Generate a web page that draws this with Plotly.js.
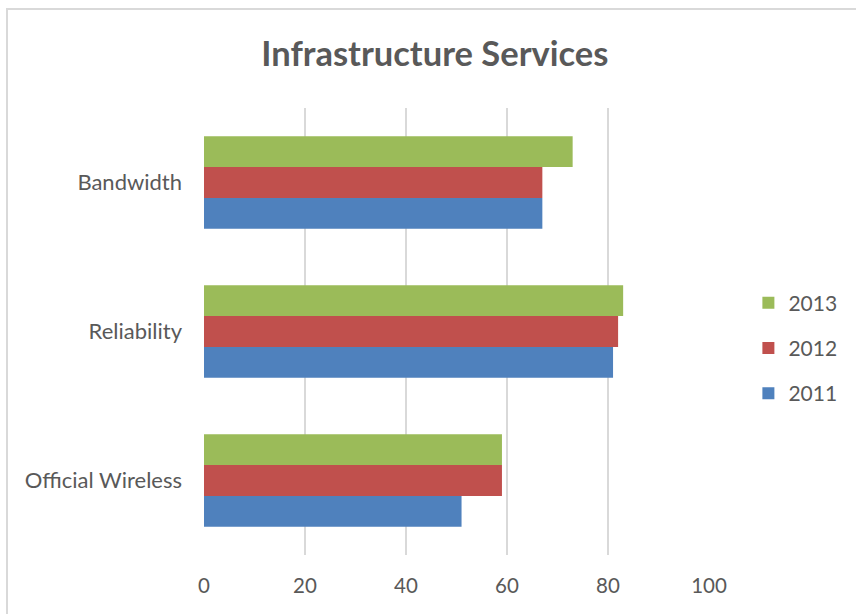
<!DOCTYPE html>
<html>
<head>
<meta charset="utf-8">
<script src="https://cdn.plot.ly/plotly-3.0.1.min.js"></script>
<style>
  html, body { margin: 0; padding: 0; background: #ffffff; overflow: hidden; }
  #frame { position: absolute; left: 6px; top: 8px; width: 880px; height: 640px; border: 2px solid #d9d9d9; box-sizing: border-box; }
  #chart { position: absolute; left: 0; top: 0; width: 856px; height: 614px; }
</style>
</head>
<body>
<div id="frame"></div>
<div id="chart"></div>
<script>
const categories = ["Official Wireless", "Reliability", "Bandwidth"];
const years = ["2011", "2012", "2013"];
const values2011 = [51, 81, 67];
const values2012 = [59, 82, 67];
const values2013 = [59, 83, 73];
const seriesValues = [values2011, values2012, values2013];
const colors = ["#4f81bd", "#c0504d", "#9bbb59"];
const xTicks = [0, 20, 40, 60, 80, 100];

const FONT = "Lato, 'Open Sans', sans-serif";
const TEXT = "#595959";

const traces = years.map((y, i) => ({
  type: "bar",
  orientation: "h",
  name: y,
  y: categories,
  x: seriesValues[i],
  legendgroup: y,
  legendrank: 100 - i,
  marker: { color: colors[i], line: { width: 0 } },
  hoverinfo: "x+name"
}));

const layout = {
  width: 856,
  height: 614,
  paper_bgcolor: "rgba(0,0,0,0)",
  plot_bgcolor: "rgba(0,0,0,0)",
  margin: { l: 204, r: 147, t: 108, b: 59, autoexpand: false },
  barmode: "group",
  bargap: 0.38,
  bargroupgap: 0,
  font: { family: FONT, color: TEXT, size: 19 },
  title: {
    text: "<b>Infrastructure Services</b>",
    font: { family: FONT, size: 34.5, color: TEXT },
    x: 0.508, xref: "container", xanchor: "center",
    y: 0.912, yref: "container", yanchor: "middle"
  },
  xaxis: {
    range: [0, 100],
    tickvals: xTicks,
    ticktext: xTicks.map(String),
    showgrid: true,
    gridcolor: "#d9d9d9",
    gridwidth: 1.8,
    zeroline: false,
    showline: false,
    ticks: "",
    ticklabelstandoff: 16,
    tickfont: { family: FONT, size: 20.5, color: TEXT },
    fixedrange: true
  },
  yaxis: {
    type: "category",
    categoryorder: "array",
    categoryarray: categories,
    showgrid: false,
    zeroline: false,
    showline: false,
    ticks: "",
    ticklabelstandoff: 21,
    tickfont: { family: FONT, size: 22, color: TEXT },
    fixedrange: true
  },
  legend: {
    traceorder: "grouped",
    tracegroupgap: 15,
    x: 1.078, xanchor: "left",
    y: 0.463, yanchor: "middle",
    font: { family: FONT, size: 21, color: TEXT },
    bgcolor: "rgba(0,0,0,0)",
    itemwidth: 30
  },
  showlegend: true
};

Plotly.newPlot("chart", traces, layout, { displayModeBar: false, staticPlot: true });
</script>
</body>
</html>
